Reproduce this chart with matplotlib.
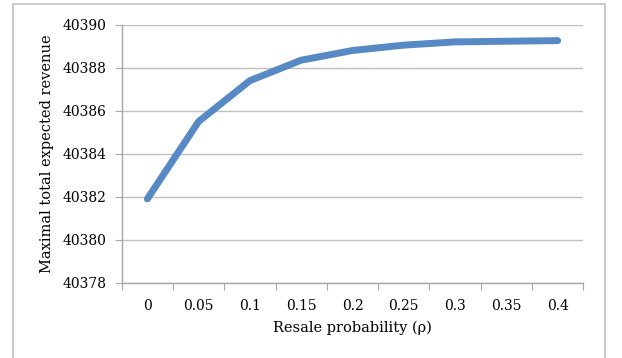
import numpy as np
import matplotlib
matplotlib.use('Agg')
import matplotlib.pyplot as plt
from matplotlib.patches import Rectangle

# resale probability categories and the revenue
rho_labels = ['0', '0.05', '0.1', '0.15', '0.2', '0.25', '0.3', '0.35', '0.4']
revenue = [40381.9, 40385.5, 40387.4, 40388.35, 40388.8, 40389.05, 40389.2, 40389.23, 40389.26]
y_ticks = [40378, 40380, 40382, 40384, 40386, 40388, 40390]

plt.rcParams['font.family'] = ['DejaVu Serif']

fig = plt.figure(figsize=(6.22, 3.58), dpi=100)
ax = fig.add_axes([0.1957, 0.2103, 0.7421, 0.7207])

# outer chart frame
frame = Rectangle((13 / 622, -0.05), (605 - 13) / 622, 1 - 4 / 358 + 0.05,
                  transform=fig.transFigure, fill=False, edgecolor='#c0c0c0', linewidth=1.2)
fig.patches.append(frame)

x = np.arange(len(rho_labels))
ax.plot(x, revenue, color='#5789c4', linewidth=5, solid_capstyle='round', solid_joinstyle='round', zorder=3)

ax.set_xlim(-0.5, len(rho_labels) - 0.5)
ax.set_ylim(40378, 40390)
ax.set_yticks(y_ticks)
ax.set_yticklabels([str(v) for v in y_ticks], fontsize=10)

# ticks on category boundaries, labels in the middle
ax.set_xticks(np.arange(-0.5, len(rho_labels), 1.0))
ax.set_xticklabels([])
ax.set_xticks(x, minor=True)
ax.set_xticklabels(rho_labels, minor=True, fontsize=10)
ax.tick_params(axis='x', which='major', length=5, color='#a6a6a6', direction='out')
ax.tick_params(axis='x', which='minor', length=0, pad=12)
ax.tick_params(axis='y', length=5, color='#a6a6a6', direction='out', pad=6)

ax.grid(axis='y', color='#bfbfbf', linewidth=1)
ax.set_axisbelow(True)
for s in ['top', 'right']:
    ax.spines[s].set_visible(False)
for s in ['left', 'bottom']:
    ax.spines[s].set_color('#a6a6a6')
    ax.spines[s].set_linewidth(1)

ax.set_xlabel('Resale probability (ρ)', fontsize=10.5, labelpad=5)
ax.set_ylabel('Maximal total expected revenue', fontsize=10.5, labelpad=6)

fig.savefig('out.png', dpi=100)
